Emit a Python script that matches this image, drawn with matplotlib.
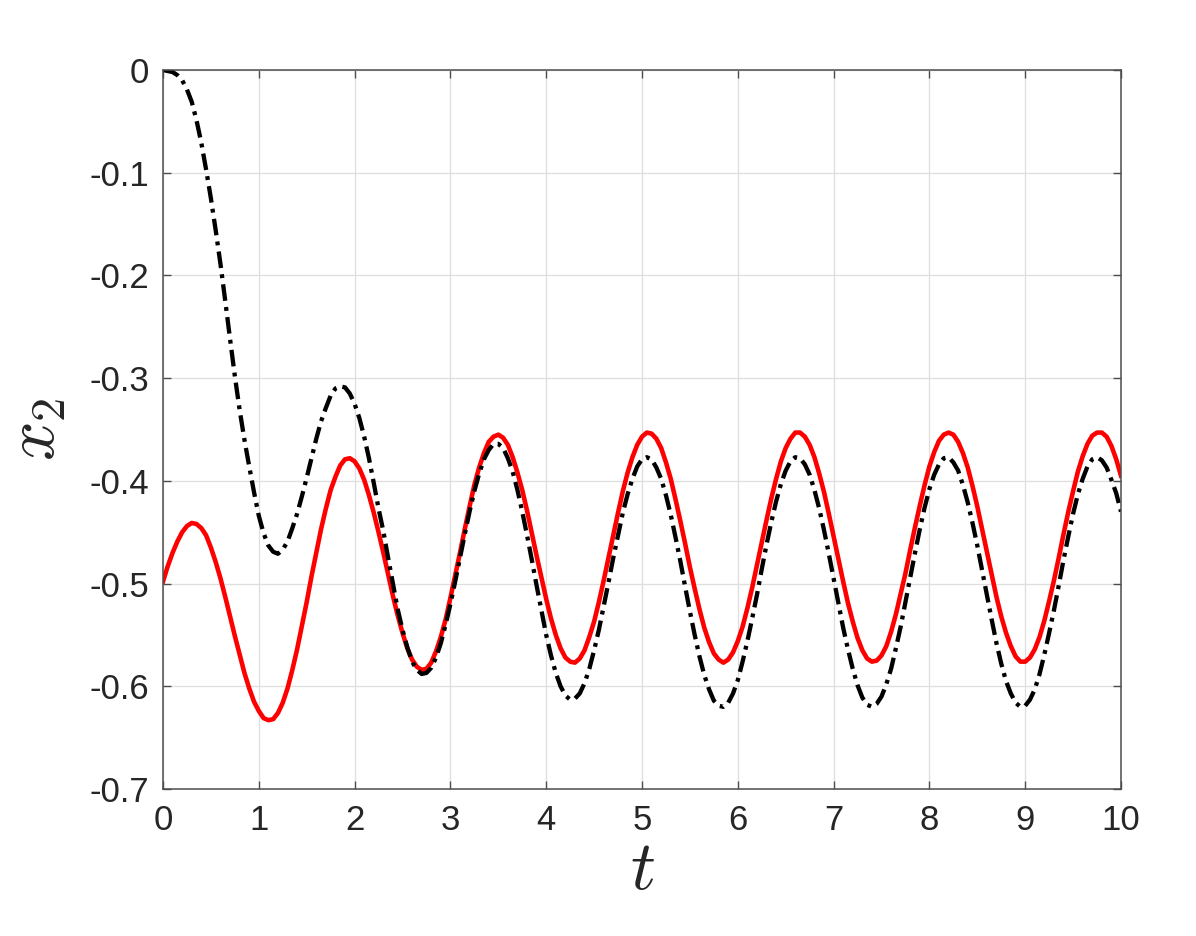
import numpy as np
import matplotlib.pyplot as plt

plt.rcParams['font.family'] = ['Liberation Sans', 'DejaVu Sans']
plt.rcParams['mathtext.fontset'] = 'cm'
plt.rcParams['lines.scale_dashes'] = False

# time samples, step 0.05
t = np.linspace(0, 10, 201)

# red solid curve
x2_red = [
    -0.498, -0.483, -0.470, -0.459, -0.450, -0.444, -0.441, -0.442, -0.446, -0.453,
    -0.465, -0.479, -0.495, -0.513, -0.532, -0.551, -0.569, -0.587, -0.602, -0.615,
    -0.624, -0.631, -0.633, -0.632, -0.626, -0.616, -0.602, -0.584, -0.564, -0.541,
    -0.518, -0.493, -0.470, -0.447, -0.427, -0.409, -0.396, -0.385, -0.379, -0.378,
    -0.381, -0.388, -0.399, -0.414, -0.431, -0.450, -0.470, -0.491, -0.512, -0.531,
    -0.548, -0.563, -0.574, -0.581, -0.584, -0.583, -0.577, -0.566, -0.552, -0.535,
    -0.514, -0.492, -0.470, -0.447, -0.425, -0.404, -0.387, -0.373, -0.362, -0.357,
    -0.355, -0.358, -0.365, -0.377, -0.392, -0.409, -0.429, -0.451, -0.473, -0.494,
    -0.515, -0.534, -0.550, -0.563, -0.572, -0.576, -0.577, -0.573, -0.565, -0.552,
    -0.537, -0.518, -0.497, -0.475, -0.453, -0.431, -0.410, -0.392, -0.377, -0.365,
    -0.357, -0.353, -0.354, -0.359, -0.368, -0.382, -0.398, -0.418, -0.439, -0.461,
    -0.484, -0.505, -0.525, -0.543, -0.557, -0.568, -0.574, -0.577, -0.574, -0.567,
    -0.556, -0.542, -0.524, -0.504, -0.482, -0.460, -0.438, -0.417, -0.398, -0.381,
    -0.368, -0.359, -0.353, -0.353, -0.357, -0.365, -0.377, -0.393, -0.411, -0.432,
    -0.454, -0.476, -0.498, -0.519, -0.537, -0.553, -0.565, -0.573, -0.576, -0.575,
    -0.570, -0.561, -0.547, -0.530, -0.510, -0.490, -0.467, -0.445, -0.424, -0.404,
    -0.386, -0.372, -0.361, -0.355, -0.353, -0.355, -0.362, -0.373, -0.387, -0.405,
    -0.425, -0.447, -0.469, -0.491, -0.513, -0.532, -0.548, -0.561, -0.571, -0.576,
    -0.576, -0.572, -0.564, -0.552, -0.536, -0.517, -0.497, -0.475, -0.452, -0.430,
    -0.410, -0.391, -0.376, -0.364, -0.356, -0.353, -0.353, -0.357, -0.366, -0.379,
    -0.395,
]

# black dash-dot curve
x2_black = [
    0.000, -0.001, -0.002, -0.005, -0.010, -0.019, -0.031, -0.049, -0.071, -0.097,
    -0.125, -0.156, -0.189, -0.225, -0.262, -0.298, -0.331, -0.360, -0.386, -0.411,
    -0.434, -0.451, -0.463, -0.469, -0.471, -0.467, -0.459, -0.446, -0.432, -0.415,
    -0.397, -0.378, -0.359, -0.342, -0.329, -0.317, -0.310, -0.308, -0.309, -0.315,
    -0.325, -0.339, -0.357, -0.378, -0.402, -0.427, -0.449, -0.475, -0.500, -0.525,
    -0.545, -0.562, -0.576, -0.584, -0.588, -0.587, -0.582, -0.572, -0.558, -0.540,
    -0.520, -0.498, -0.475, -0.452, -0.430, -0.410, -0.393, -0.379, -0.370, -0.364,
    -0.364, -0.368, -0.378, -0.391, -0.409, -0.430, -0.453, -0.477, -0.502, -0.526,
    -0.550, -0.570, -0.587, -0.600, -0.609, -0.613, -0.612, -0.607, -0.597, -0.583,
    -0.565, -0.545, -0.522, -0.499, -0.475, -0.453, -0.431, -0.413, -0.398, -0.386,
    -0.379, -0.377, -0.379, -0.387, -0.398, -0.414, -0.433, -0.455, -0.478, -0.503,
    -0.527, -0.550, -0.571, -0.589, -0.603, -0.614, -0.619, -0.620, -0.616, -0.607,
    -0.594, -0.576, -0.556, -0.534, -0.511, -0.486, -0.462, -0.440, -0.420, -0.403,
    -0.390, -0.381, -0.377, -0.378, -0.384, -0.394, -0.409, -0.427, -0.448, -0.471,
    -0.495, -0.519, -0.543, -0.564, -0.583, -0.599, -0.611, -0.618, -0.620, -0.617,
    -0.610, -0.598, -0.583, -0.563, -0.542, -0.518, -0.494, -0.470, -0.447, -0.426,
    -0.408, -0.394, -0.384, -0.378, -0.377, -0.382, -0.390, -0.404, -0.421, -0.441,
    -0.463, -0.487, -0.511, -0.535, -0.558, -0.578, -0.595, -0.607, -0.616, -0.620,
    -0.619, -0.613, -0.603, -0.588, -0.569, -0.548, -0.526, -0.502, -0.477, -0.454,
    -0.432, -0.413, -0.398, -0.386, -0.379, -0.377, -0.380, -0.387, -0.399, -0.412,
    -0.430,
]

fig = plt.figure(figsize=(11.96, 9.36), dpi=100)
ax = fig.add_axes([163 / 1196, 1 - 789 / 936, (1121 - 163) / 1196, (789 - 70) / 936])

ax.plot(t, x2_red, color='red', linewidth=3.3, solid_joinstyle='round')
ax.plot(t, x2_black, color='black', linewidth=3.1, dashes=[12, 4.5, 2.8, 4.5],
        dash_capstyle='butt')

ax.set_xlim(0, 10)
ax.set_ylim(-0.7, 0)
ax.set_xticks(np.arange(0, 11, 1))
ax.set_yticks(np.round(np.arange(-0.7, 0.01, 0.1), 1))
ax.set_yticklabels(['-0.7', '-0.6', '-0.5', '-0.4', '-0.3', '-0.2', '-0.1', '0'])

ax.grid(True, color='#dedede', linewidth=0.9)
ax.set_axisbelow(True)
for s in ax.spines.values():
    s.set_color('#4d4d4d')
    s.set_linewidth(1.1)
ax.tick_params(direction='in', length=6, width=1.0, color='#4d4d4d',
               top=True, right=True, labelsize=25, labelcolor='#262626')
ax.tick_params(axis='x', pad=11)
ax.tick_params(axis='y', pad=10)

ax.set_xlabel('$t$', fontsize=50, color='#262626', labelpad=1)
ax.set_ylabel('$x_2$', fontsize=50, color='#262626', labelpad=15)

fig.savefig('out.png', dpi=100)
